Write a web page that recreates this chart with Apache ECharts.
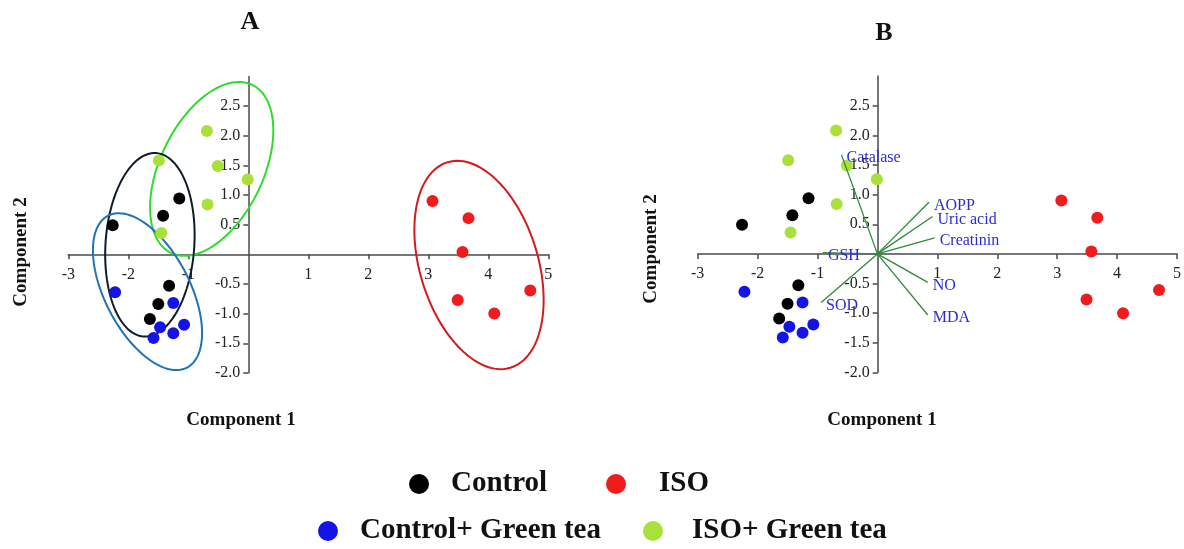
<!DOCTYPE html>
<html>
<head>
<meta charset="utf-8">
<script src="https://cdn.jsdelivr.net/npm/echarts@6/dist/echarts.min.js"></script>
<style>
  html, body { margin: 0; padding: 0; background: #fff; }
  #chart { width: 1184px; height: 549px; }
</style>
</head>
<body>
<div id="chart"></div>
<script>
// PCA scores (component 1 / component 2)
const groupNames = ['Control', 'ISO', 'Control+ Green tea', 'ISO+ Green tea'];
const controlX = [-2.26, -1.42, -1.15, -1.32, -1.50, -1.64];
const controlY = [0.49, 0.65, 0.94, -0.53, -0.84, -1.09];
const isoX = [3.07, 3.67, 3.57, 3.49, 4.10, 4.70];
const isoY = [0.90, 0.61, 0.04, -0.77, -1.00, -0.61];
const controlTeaX = [-2.22, -1.25, -1.47, -1.07, -1.25, -1.58];
const controlTeaY = [-0.64, -0.82, -1.23, -1.19, -1.33, -1.41];
const isoTeaX = [-0.69, -1.49, -0.51, -0.01, -0.68, -1.45];
const isoTeaY = [2.08, 1.58, 1.49, 1.26, 0.84, 0.36];

// group ellipses for panel A (centre, semi-axes, angle in degrees)
const ellipseGroups = ['ISO+ Green tea', 'Control', 'Control+ Green tea', 'ISO'];
const ellipseCx = [-0.61, -1.64, -1.68, 3.845];
const ellipseCy = [1.44, 0.16, -0.63, -0.18];
const ellipseMajor = [1.57, 1.55, 1.44, 1.81];
const ellipseMinor = [0.86, 0.74, 0.71, 0.985];
const ellipseAngle = [64.7, 86.2, 117, 106.7];

// loadings for panel B
const loadingNames = ['Catalase', 'AOPP', 'Uric acid', 'Creatinin', 'GSH', 'SOD', 'NO', 'MDA'];
const loadingX = [-0.60, 0.86, 0.92, 0.955, -0.91, -0.94, 0.84, 0.84];
const loadingY = [1.67, 0.87, 0.63, 0.27, 0.02, -0.82, -0.48, -1.03];

// axis ranges and tick labels
const xMin = -3, xMax = 5;
const yMin = -2, yMax = 3;
const xTicks = [-3, -2, -1, 1, 2, 3, 4, 5];
const yTicks = [-2, -1.5, -1, -0.5, 0.5, 1, 1.5, 2, 2.5];

const serif = '"Liberation Serif", "Times New Roman", serif';
const groupColors = ['#000000', '#ee1c1c', '#1414e6', '#a9e03a'];
const ellipseColors = ['#30db30', '#0f1c2b', '#1f73b4', '#d41a1c'];

const groupX = [controlX, isoX, controlTeaX, isoTeaX];
const groupY = [controlY, isoY, controlTeaY, isoTeaY];

const gridW = 480, gridH = 296.5;
const grids = [
  { left: 68.3, top: 76.4, width: gridW, height: gridH },
  { left: 697.7, top: 76, width: gridW, height: gridH }
];

let myChart = echarts.init(document.getElementById('chart'));

// axes cross at zero: shift them in from the grid edge
function makeXAxis(gridIndex) {
  return {
    type: 'value', gridIndex: gridIndex, min: xMin, max: xMax, interval: 1,
    position: 'bottom',
    offset: -((0 - yMin) / (yMax - yMin)) * gridH,
    splitLine: { show: false },
    axisLine: { onZero: false, lineStyle: { color: '#4a4a4a', width: 1.5 } },
    axisTick: { length: 5, customValues: xTicks, lineStyle: { color: '#4a4a4a', width: 1.5 } },
    axisLabel: {
      customValues: xTicks, margin: 12, color: '#222', fontFamily: serif, fontSize: 16,
      formatter: (v) => (v === 0 ? '' : String(v))
    }
  };
}

function makeYAxis(gridIndex) {
  return {
    type: 'value', gridIndex: gridIndex, min: yMin, max: yMax, interval: 0.5,
    position: 'left',
    offset: -((0 - xMin) / (xMax - xMin)) * gridW,
    splitLine: { show: false },
    axisLine: { onZero: false, lineStyle: { color: '#4a4a4a', width: 1.5 } },
    axisTick: { length: 5, customValues: yTicks, lineStyle: { color: '#4a4a4a', width: 1.5 } },
    axisLabel: {
      customValues: yTicks, margin: 8, color: '#222', fontFamily: serif, fontSize: 16,
      formatter: (v) => (v === 0 || v === 3 ? '' : v.toFixed(1))
    }
  };
}

let series = [];
for (let g = 0; g < 2; g++) {
  groupNames.forEach((name, i) => {
    series.push({
      name: name,
      type: 'scatter',
      xAxisIndex: g, yAxisIndex: g,
      symbolSize: 12,
      z: 3,
      itemStyle: { color: groupColors[i], opacity: 1 },
      data: groupX[i].map((x, k) => [x, groupY[i][k]])
    });
  });
}

series.push({
  type: 'custom',
  xAxisIndex: 0, yAxisIndex: 0,
  silent: true,
  clip: false,
  z: 2,
  encode: { x: 0, y: 1 },
  data: ellipseCx.map((cx, i) => [cx, ellipseCy[i], ellipseMajor[i], ellipseMinor[i], ellipseAngle[i]]),
  renderItem: function (params, api) {
    const cx = api.value(0), cy = api.value(1);
    const a = api.value(2), b = api.value(3);
    const ang = api.value(4) * Math.PI / 180;
    let pts = [];
    for (let k = 0; k < 120; k++) {
      const t = (k / 120) * Math.PI * 2;
      const ex = a * Math.cos(t), ey = b * Math.sin(t);
      pts.push(api.coord([
        cx + ex * Math.cos(ang) - ey * Math.sin(ang),
        cy + ex * Math.sin(ang) + ey * Math.cos(ang)
      ]));
    }
    return {
      type: 'polygon',
      shape: { points: pts },
      style: { fill: 'none', stroke: ellipseColors[params.dataIndex], lineWidth: 2 }
    };
  }
});

series.push({
  type: 'custom',
  xAxisIndex: 1, yAxisIndex: 1,
  silent: true,
  clip: false,
  z: 4,
  encode: { x: 0, y: 1 },
  data: loadingX.map((x, i) => [x, loadingY[i]]),
  renderItem: function (params, api) {
    const o = api.coord([0, 0]);
    const e = api.coord([api.value(0), api.value(1)]);
    return {
      type: 'group',
      children: [
        {
          type: 'line',
          shape: { x1: o[0], y1: o[1], x2: e[0], y2: e[1] },
          style: { stroke: '#2f8a3c', lineWidth: 1.3 }
        },
        {
          type: 'text',
          x: e[0] + 5, y: e[1] + 3,
          style: {
            text: loadingNames[params.dataIndex],
            fill: '#2b2bd6',
            font: '16px ' + serif,
            align: 'left', verticalAlign: 'middle'
          }
        }
      ]
    };
  }
});

function makeLegend(name, left, top, textPad) {
  return {
    data: [name], left: left, top: top, padding: 0,
    icon: 'circle', itemWidth: 20, itemHeight: 20,
    textStyle: {
      fontFamily: serif, fontWeight: 'bold', fontSize: 29, color: '#111',
      lineHeight: 30, padding: [0, 0, 0, textPad]
    }
  };
}

function label(text, x, y, size, rotate) {
  return {
    type: 'text', x: x, y: y, rotation: rotate ? Math.PI / 2 : 0,
    style: {
      text: text, fill: '#111', font: 'bold ' + size + 'px ' + serif,
      align: 'center', verticalAlign: 'middle'
    }
  };
}

let option = {
  animation: false,
  backgroundColor: '#ffffff',
  grid: grids,
  xAxis: [makeXAxis(0), makeXAxis(1)],
  yAxis: [makeYAxis(0), makeYAxis(1)],
  legend: [
    makeLegend('Control', 409, 469, 17),
    makeLegend('ISO', 606, 469, 28),
    makeLegend('Control+ Green tea', 318, 516, 17),
    makeLegend('ISO+ Green tea', 643, 516, 24)
  ],
  graphic: [
    label('A', 250, 22, 26),
    label('B', 884, 33, 26),
    label('Component 1', 241, 420, 19),
    label('Component 1', 882, 420, 19),
    label('Component 2', 21, 252, 19, true),
    label('Component 2', 651, 249, 19, true)
  ],
  series: series
};

option && myChart.setOption(option);
</script>
</body>
</html>
